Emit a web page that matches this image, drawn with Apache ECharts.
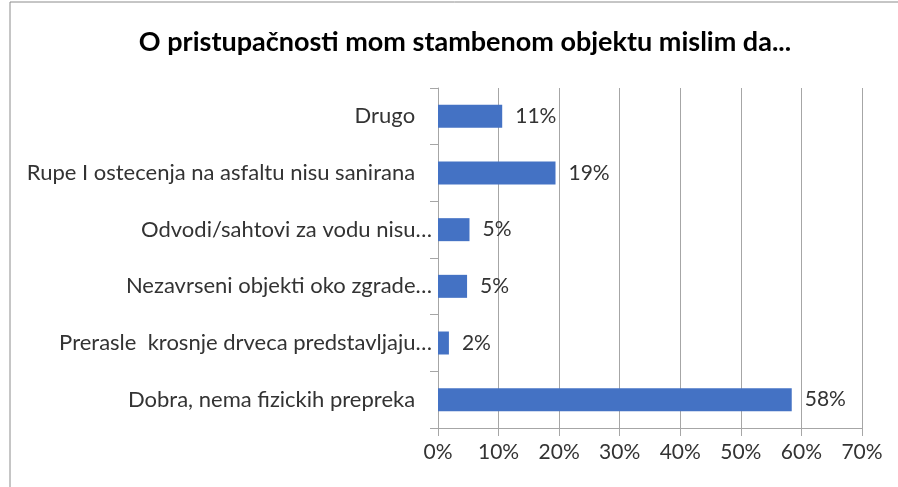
<!DOCTYPE html>
<html>
<head>
<meta charset="utf-8">
<script src="https://cdn.jsdelivr.net/npm/echarts@6/dist/echarts.min.js"></script>
<style>
  html, body { margin: 0; padding: 0; background: #fff; }
  #chart { width: 898px; height: 487px; }
</style>
</head>
<body>
<div id="chart"></div>
<script>
const categories = [
  'Drugo',
  'Rupe I ostecenja na asfaltu nisu sanirana',
  'Odvodi/sahtovi za vodu nisu…',
  'Nezavrseni objekti oko zgrade…',
  'Prerasle  krosnje drveca predstavljaju…',
  'Dobra, nema fizickih prepreka'
]
const percents = [10.6, 19.4, 5.2, 4.8, 1.8, 58.4]
const tickValues = [0, 10, 20, 30, 40, 50, 60, 70]

const font = 'Lato, "Open Sans", sans-serif'
const chart = echarts.init(document.getElementById('chart'))

const option = {
  animation: false,
  title: {
    text: 'O pristupačnosti mom stambenom objektu mislim da...',
    left: 460,
    textAlign: 'center',
    top: 24,
    textStyle: { fontFamily: font, fontSize: 27, fontWeight: 'bold', color: '#000' }
  },
  graphic: [{
    type: 'rect',
    shape: { x: 10, y: 2, width: 900, height: 500 },
    style: { fill: 'none', stroke: '#8c8c8c', lineWidth: 1 },
    silent: true
  }],
  grid: { left: 438, right: 36, top: 88, bottom: 59 },
  xAxis: {
    type: 'value',
    min: tickValues[0],
    max: tickValues[tickValues.length - 1],
    interval: 10,
    axisLine: { show: true, lineStyle: { color: '#a6a6a6' } },
    axisTick: { show: true, length: 8, lineStyle: { color: '#a6a6a6' } },
    splitLine: { show: true, lineStyle: { color: '#a6a6a6' } },
    axisLabel: {
      formatter: '{value}%',
      margin: 14,
      fontFamily: font,
      fontSize: 21,
      color: '#333'
    }
  },
  yAxis: {
    type: 'category',
    inverse: true,
    data: categories,
    axisLine: { show: true, lineStyle: { color: '#a6a6a6' } },
    axisTick: { show: true, length: 8, lineStyle: { color: '#a6a6a6' } },
    axisLabel: {
      margin: 6,
      fontFamily: font,
      fontSize: 22,
      color: '#333',
      formatter: function (v) {
        return v.endsWith('…') ? v : v + '   '
      }
    }
  },
  series: [{
    type: 'bar',
    data: percents,
    barWidth: 23,
    itemStyle: { color: '#4472c4' },
    label: {
      show: true,
      position: 'right',
      distance: 13,
      fontFamily: font,
      fontSize: 21,
      color: '#333',
      formatter: function (p) { return Math.round(p.value) + '%' }
    }
  }]
}

chart.setOption(option)
</script>
</body>
</html>
